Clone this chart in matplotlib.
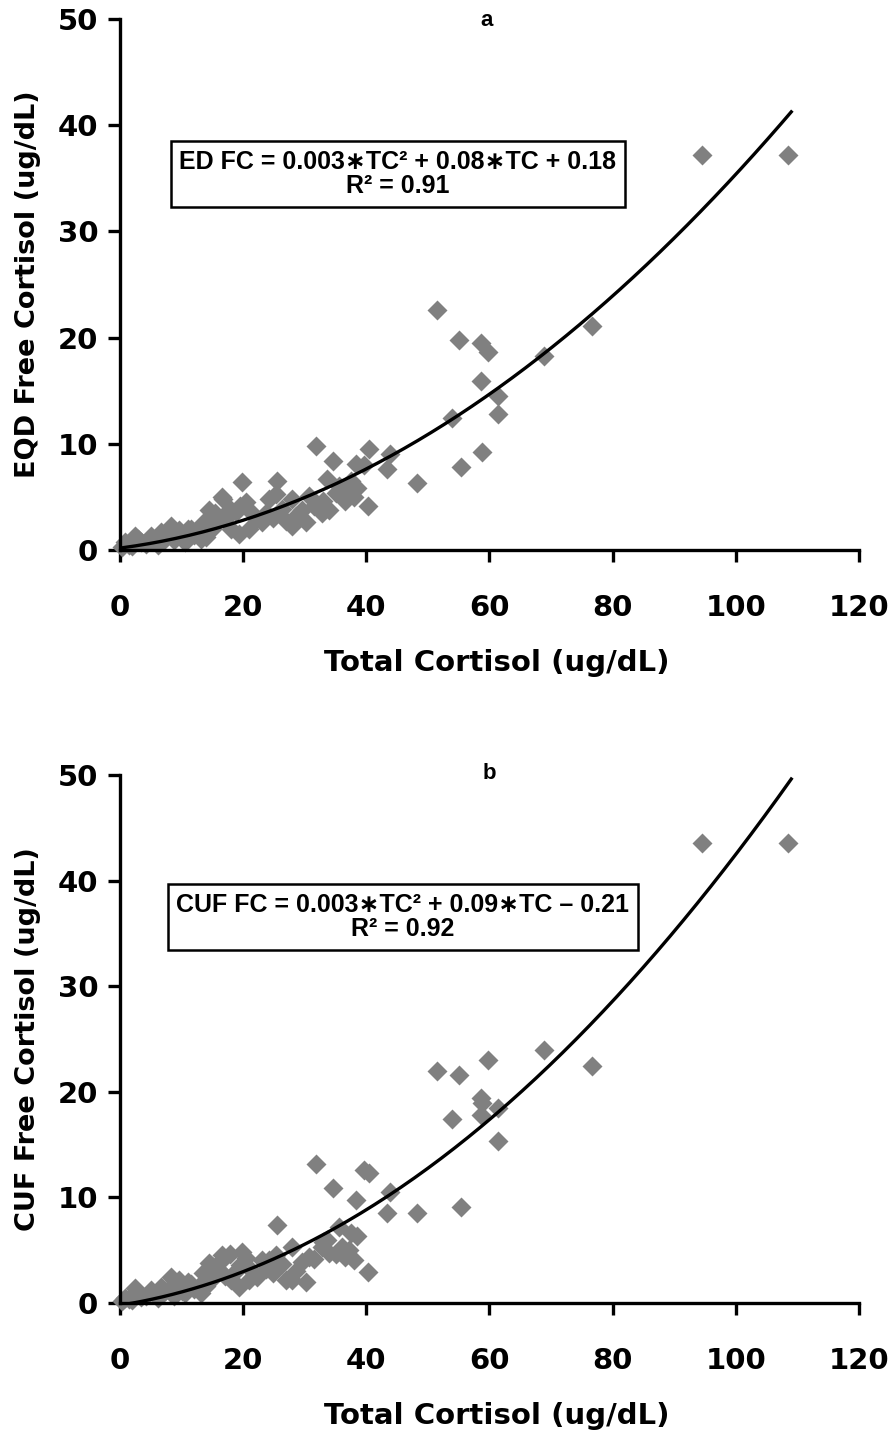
import numpy as np
import matplotlib
matplotlib.use("Agg")
import matplotlib.pyplot as plt

# Total cortisol (shared x) and free cortisol by two methods
tc = [108.5, 94.5, 76.7, 68.8, 51.5, 55.0, 58.6, 59.8, 58.7, 61.3,
      53.9, 61.4, 55.3, 58.8, 48.2, 43.8, 43.3, 40.5, 39.7, 40.2,
      31.8, 34.6, 38.4, 38.0, 38.5, 35.6, 36.1, 34.0, 33.6, 30.2,
      26.9, 25.5, 19.8, 16.5, 37.2, 35.1, 30.7, 27.9, 32.8, 25.3,
      24.2, 23.0, 20.9, 19.5, 18.8, 17.1, 14.4, 13.2, 10.6, 8.3,
      6.7, 5.1, 2.4, 0.8, 3.4, 11.6, 15.5, 14.9, 12.7, 18.1,
      21.4, 23.7, 26.3, 28.6, 31.5, 19.3, 9.0, 7.3, 0.3, 1.5,
      4.2, 5.8, 10.0, 12.0, 14.0, 16.0, 17.8, 16.8, 22.2, 24.8,
      28.0, 20.5, 2.0, 3.0, 6.2, 8.8, 11.0, 13.5, 15.0, 9.5,
      29.5, 33.0, 36.5, 37.5]
fc_ed = [37.2, 37.2, 21.1, 18.3, 22.6, 19.8, 19.5, 18.6, 15.9, 14.5,
         12.4, 12.8, 7.8, 9.2, 6.3, 9.0, 7.6, 9.5, 8.0, 4.1,
         9.8, 8.4, 8.1, 5.0, 5.8, 6.0, 5.5, 3.8, 6.7, 2.6,
         2.7, 6.5, 6.4, 5.0, 5.7, 5.4, 5.1, 4.8, 3.5, 5.3,
         4.8, 2.6, 2.0, 4.1, 3.6, 2.9, 3.8, 1.0, 0.8, 2.3,
         1.7, 1.3, 1.3, 0.8, 0.8, 2.0, 3.5, 2.0, 1.7, 2.0,
         3.5, 3.5, 3.9, 3.2, 4.1, 1.5, 1.6, 1.0, 0.3, 0.5,
         0.6, 0.9, 1.2, 1.4, 1.2, 2.8, 3.9, 4.8, 2.9, 3.0,
         2.3, 4.5, 0.4, 1.0, 0.5, 0.9, 2.0, 2.5, 3.2, 1.9,
         3.8, 4.6, 4.6, 6.5]
fc_cuf = [43.6, 43.6, 22.4, 24.0, 22.0, 21.6, 19.4, 23.0, 17.8, 18.5,
          17.4, 15.3, 9.1, 18.9, 8.5, 10.5, 8.5, 12.3, 12.6, 2.9,
          13.2, 10.9, 9.8, 4.1, 6.3, 7.2, 5.3, 4.7, 6.0, 2.0,
          2.2, 7.4, 4.8, 4.5, 5.0, 4.6, 4.4, 5.3, 5.3, 4.5,
          4.1, 4.1, 2.2, 3.6, 3.0, 2.6, 3.8, 0.9, 0.9, 2.5,
          1.5, 1.2, 1.4, 0.5, 0.6, 1.8, 3.4, 2.3, 1.5, 2.2,
          3.0, 3.2, 3.7, 3.0, 4.2, 1.5, 1.8, 1.1, 0.2, 0.4,
          0.7, 0.8, 1.1, 1.3, 1.6, 3.1, 4.6, 4.2, 2.5, 2.8,
          2.2, 4.3, 0.3, 1.0, 0.5, 0.7, 2.0, 2.8, 3.5, 2.2,
          3.9, 5.8, 4.4, 6.6]

# quadratic fits (coefficients before rounding in the equation labels)
fit_ed = [0.00276, 0.076, 0.18]
fit_cuf = [0.00335, 0.092, -0.21]

panels = [
    ("a", "EQD Free Cortisol (ug/dL)", fc_ed, fit_ed,
     "ED FC = 0.003\u2217TC\u00b2 + 0.08\u2217TC + 0.18\nR\u00b2 = 0.91"),
    ("b", "CUF Free Cortisol (ug/dL)", fc_cuf, fit_cuf,
     "CUF FC = 0.003\u2217TC\u00b2 + 0.09\u2217TC \u2013 0.21\nR\u00b2 = 0.92"),
]

W, H = 895, 1431
fig = plt.figure(figsize=(W / 100, H / 100), dpi=100)
heavy = ['DejaVu Sans']
arial = ['Liberation Sans', 'DejaVu Sans']

# axes rectangles in pixels: (left, right, y0 pixel, y50 pixel)
boxes = [(120, 859, 550, 19), (120, 859, 1303, 775)]
eq_pos = [(398, 174), (403, 917)]
tag_pos = [(487, 20), (489, 773)]

for (tag, ylab, fc, fit, eq), (l, r, yb, yt), (ex, ey), (tx, ty) in zip(
        panels, boxes, eq_pos, tag_pos):
    ax = fig.add_axes([l / W, 1 - yb / H, (r - l) / W, (yb - yt) / H])
    ax.plot(tc, fc, ls='none', marker='D', ms=10.5, color='#808080', mec='none',
            clip_on=False, zorder=2)
    xs = np.linspace(0.3, 109, 200)
    ax.plot(xs, np.polyval(fit, xs), color='black', lw=2.4, zorder=3)
    ax.set_xlim(0, 120)
    ax.set_ylim(0, 50)
    ax.set_xticks(range(0, 121, 20))
    ax.set_yticks(range(0, 51, 10))
    for s in ['top', 'right']:
        ax.spines[s].set_visible(False)
    for s in ['left', 'bottom']:
        ax.spines[s].set_linewidth(2.4)
    ax.tick_params(direction='out', length=8.6, width=2.4, labelsize=21)
    ax.tick_params(axis='x', pad=23)
    ax.tick_params(axis='y', pad=7)
    for lab in ax.get_xticklabels() + ax.get_yticklabels():
        lab.set_fontweight('bold')
        lab.set_family(heavy)
    ax.set_xlabel('Total Cortisol (ug/dL)', fontsize=21, fontweight='bold',
                  family=heavy, va='center')
    ax.xaxis.set_label_coords(0.51, -113 / (yb - yt))
    ax.set_ylabel(ylab, fontsize=19.5, fontweight='bold', family=heavy, va='center')
    ax.yaxis.set_label_coords((28 - l) / (r - l), 0.5)
    fig.text(tx / W, 1 - ty / H, tag, ha='center', va='center',
             fontsize=16, fontweight='bold', family=arial)
    fig.text(ex / W, 1 - ey / H, eq, ha='center', va='center', fontsize=18,
             fontweight='bold', family=arial, linespacing=1.0,
             bbox=dict(boxstyle='square,pad=0.35', fc='white', ec='black', lw=1.8))

plt.savefig('out.png', dpi=100)
